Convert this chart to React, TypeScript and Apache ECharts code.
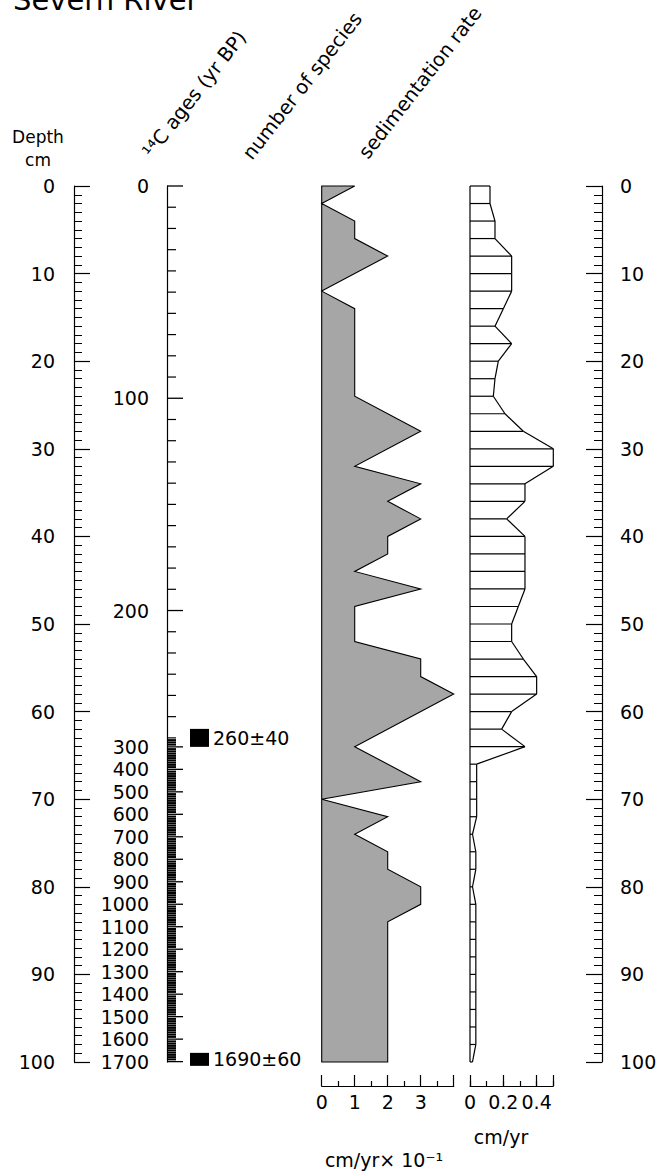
import React, { useEffect, useRef } from "react";
import * as echarts from "echarts";

// ---------------- data ----------------
const title = "Severn River";
const depthMin = 0;
const depthMax = 100;

// number of species (x, cm/yr x 10^-1 scale) at depth (cm)
const speciesDepth = [0, 2, 4, 6, 8, 12, 14, 24, 28, 32, 34, 36, 38, 40, 42, 44, 46, 48, 52, 54, 56, 58, 64, 68, 70, 72, 74, 76, 78, 80, 82, 84, 100];
const speciesValue = [1, 0, 1, 1, 2, 0, 1, 1, 3, 1, 3, 2, 3, 2, 2, 1, 3, 1, 1, 3, 3, 4, 1, 3, 0, 2, 1, 2, 2, 3, 3, 2, 2];

// sedimentation rate (cm/yr) at depth (cm)
const sedDepth = [0, 2, 4, 6, 8, 10, 12, 14, 16, 18, 20, 22, 24, 26, 28, 30, 32, 34, 36, 38, 40, 42, 44, 46, 48, 50, 52, 54, 56, 58, 60, 62, 64, 66, 68, 70, 72, 74, 76, 78, 80, 82, 84, 86, 88, 90, 92, 94, 96, 98, 100];
const sedRate = [0.12, 0.12, 0.15, 0.15, 0.25, 0.25, 0.25, 0.2, 0.15, 0.25, 0.17, 0.15, 0.14, 0.21, 0.32, 0.5, 0.5, 0.33, 0.33, 0.22, 0.33, 0.33, 0.33, 0.33, 0.29, 0.25, 0.25, 0.32, 0.4, 0.4, 0.25, 0.19, 0.33, 0.04, 0.04, 0.04, 0.04, 0.015, 0.035, 0.035, 0.015, 0.035, 0.035, 0.035, 0.035, 0.035, 0.035, 0.035, 0.035, 0.035, 0.015];

// age-depth model control points (yr BP -> cm)
const ageControlAge = [0, 260, 1690];
const ageControlDepth = [0, 63, 99.7];

// radiocarbon dates
const datedAges = [260, 1690];
const datedErrors = [40, 60];
const datedDepths = [63, 99.7];

// age axis ticks
const ageTickStep = 10;
const ageTickMax = 1700;
const ageTickLabels = [0, 100, 200, 300, 400, 500, 600, 700, 800, 900, 1000, 1100, 1200, 1300, 1400, 1500, 1600, 1700];

// panel axes
const speciesAxisMax = 4;
const sedAxisMax = 0.5;

// ---------------- helpers ----------------
function ageToDepth(age: number): number {
  const a = ageControlAge;
  const d = ageControlDepth;
  let i = 0;
  while (i < a.length - 2 && age > a[i + 1]) i++;
  const t = (age - a[i]) / (a[i + 1] - a[i]);
  return d[i] + t * (d[i + 1] - d[i]);
}

const FONT = "DejaVu Sans";
const TOP = 186;
const H = 876;
const BLACK = "#000";

export default function App() {
  const ref = useRef<HTMLDivElement>(null);

  useEffect(() => {
    if (!ref.current) return;
    const chart = echarts.init(ref.current, null, { renderer: "svg" });

    const ageTicks: number[][] = [];
    for (let a = 0; a <= ageTickMax; a += ageTickStep) {
      ageTicks.push([0, ageToDepth(a), a]);
    }

    const depthAxisCommon = {
      type: "value",
      min: depthMin,
      max: depthMax,
      inverse: true,
      interval: 10,
      axisLine: { show: true, onZero: false, lineStyle: { color: BLACK, width: 1.2 } },
      axisTick: { show: true, inside: true, length: 16, lineStyle: { color: BLACK, width: 1.2 } },
      minorTick: { show: true, splitNumber: 10, length: 8, lineStyle: { color: BLACK, width: 1 } },
      splitLine: { show: false },
      minorSplitLine: { show: false },
    };

    const hiddenY = (gi: number) => ({
      gridIndex: gi,
      type: "value",
      min: depthMin,
      max: depthMax,
      inverse: true,
      show: false,
    });

    const labelStyle = { fontFamily: FONT, fontSize: 19, color: BLACK };

    const rot = (52 * Math.PI) / 180;
    const headerStyle = { fontFamily: FONT, fontSize: 19.5, fill: BLACK, align: "left", verticalAlign: "middle" };

    const option: any = {
      animation: false,
      backgroundColor: "#fff",
      grid: [
        { left: 74, top: TOP, width: 10, height: H },
        { left: 167, top: TOP, width: 16, height: H },
        { left: 321.7, top: TOP, width: 132, height: H },
        { left: 470, top: TOP, width: 83.3, height: H },
        { left: 592, top: TOP, width: 10, height: H },
      ],
      xAxis: [
        { gridIndex: 0, type: "value", min: 0, max: 1, show: false },
        { gridIndex: 1, type: "value", min: 0, max: 1, show: false },
        {
          gridIndex: 2,
          type: "value",
          min: 0,
          max: speciesAxisMax,
          interval: 1,
          position: "bottom",
          offset: 24,
          axisLine: { show: true, onZero: false, lineStyle: { color: BLACK, width: 1.2 } },
          axisTick: { show: true, inside: true, length: 11, lineStyle: { color: BLACK, width: 1.2 } },
          minorTick: { show: true, splitNumber: 2, length: 5, lineStyle: { color: BLACK, width: 1.2 } },
          splitLine: { show: false },
          minorSplitLine: { show: false },
          axisLabel: {
            ...labelStyle,
            margin: 6,
            formatter: (v: number) => (v === speciesAxisMax ? "" : String(v)),
          },
        },
        {
          gridIndex: 3,
          type: "value",
          min: 0,
          max: sedAxisMax,
          interval: 0.2,
          position: "bottom",
          offset: 24,
          axisLine: { show: true, onZero: false, lineStyle: { color: BLACK, width: 1.2 } },
          axisTick: { show: true, inside: true, length: 11, lineStyle: { color: BLACK, width: 1.2 } },
          splitLine: { show: false },
          axisLabel: {
            ...labelStyle,
            margin: 6,
            formatter: (v: number) => (Math.abs(v - sedAxisMax) < 1e-9 ? "" : String(Math.round(v * 10) / 10)),
          },
        },
        {
          gridIndex: 3,
          type: "value",
          min: 0,
          max: sedAxisMax,
          interval: 0.1,
          position: "bottom",
          offset: 24,
          axisLine: { show: false, onZero: false },
          axisTick: { show: true, inside: true, length: 5, lineStyle: { color: BLACK, width: 1.2 } },
          splitLine: { show: false },
          axisLabel: { show: false },
        },
        { gridIndex: 4, type: "value", min: 0, max: 1, show: false },
      ],
      yAxis: [
        {
          ...depthAxisCommon,
          gridIndex: 0,
          position: "left",
          axisLabel: { ...labelStyle, margin: 19 },
        },
        {
          gridIndex: 1,
          type: "value",
          min: depthMin,
          max: depthMax,
          inverse: true,
          position: "left",
          axisLine: { show: true, onZero: false, lineStyle: { color: BLACK, width: 1.2 } },
          axisTick: { show: false },
          axisLabel: { show: false },
          splitLine: { show: false },
        },
        hiddenY(2),
        hiddenY(3),
        {
          ...depthAxisCommon,
          gridIndex: 4,
          position: "right",
          axisLabel: { ...labelStyle, margin: 18 },
        },
      ],
      series: [
        // age axis ticks & labels (age-depth model)
        {
          type: "custom",
          xAxisIndex: 1,
          yAxisIndex: 1,
          data: ageTicks,
          silent: true,
          renderItem: (params: any, api: any) => {
            const age = api.value(2);
            const d = api.value(1);
            const p = api.coord([0, d]);
            const major = age % 100 === 0;
            const dense = age > datedAges[0];
            const children: any[] = [
              {
                type: "line",
                shape: { x1: p[0], y1: p[1], x2: p[0] + (major ? 16 : 9), y2: p[1] },
                style: { stroke: BLACK, lineWidth: major ? 1.3 : dense ? 2 : 1.2 },
              },
            ];
            if (major && ageTickLabels.indexOf(age) >= 0) {
              children.push({
                type: "text",
                style: {
                  text: String(age),
                  x: p[0] - 18,
                  y: p[1],
                  align: "right",
                  verticalAlign: "middle",
                  fontFamily: FONT,
                  fontSize: 19,
                  fill: BLACK,
                },
              });
            }
            return { type: "group", children };
          },
        },
        // radiocarbon dates
        {
          type: "custom",
          xAxisIndex: 1,
          yAxisIndex: 1,
          data: datedAges.map((a, i) => [0, datedDepths[i], a, datedErrors[i]]),
          silent: true,
          renderItem: (params: any, api: any) => {
            const p = api.coord([0, api.value(1)]);
            const h = params.dataIndex === 0 ? 18 : 13;
            return {
              type: "group",
              children: [
                {
                  type: "rect",
                  shape: { x: p[0] + 23, y: p[1] - h / 2, width: 19, height: h },
                  style: { fill: BLACK },
                },
                {
                  type: "text",
                  style: {
                    text: api.value(2) + "±" + api.value(3),
                    x: p[0] + 46,
                    y: p[1],
                    align: "left",
                    verticalAlign: "middle",
                    fontFamily: FONT,
                    fontSize: 19,
                    fill: BLACK,
                  },
                },
              ],
            };
          },
        },
        // number of species
        {
          type: "custom",
          xAxisIndex: 2,
          yAxisIndex: 2,
          data: speciesDepth.map((d, i) => [speciesValue[i], d]),
          silent: true,
          renderItem: (params: any, api: any) => {
            if (params.dataIndex !== 0) return { type: "group", children: [] };
            const pts: number[][] = [];
            pts.push(api.coord([0, speciesDepth[0]]));
            for (let i = 0; i < speciesDepth.length; i++) {
              pts.push(api.coord([speciesValue[i], speciesDepth[i]]));
            }
            pts.push(api.coord([0, speciesDepth[speciesDepth.length - 1]]));
            return {
              type: "polygon",
              shape: { points: pts },
              style: { fill: "#a6a6a6", stroke: BLACK, lineWidth: 1.1 },
            };
          },
        },
        // sedimentation rate
        {
          type: "custom",
          xAxisIndex: 3,
          yAxisIndex: 3,
          data: sedDepth.map((d, i) => [sedRate[i], d]),
          silent: true,
          renderItem: (params: any, api: any) => {
            const i = params.dataIndex;
            const v = api.value(0);
            const d = api.value(1);
            const p0 = api.coord([0, d]);
            const p1 = api.coord([v, d]);
            const children: any[] = [
              {
                type: "line",
                shape: { x1: p0[0], y1: p0[1], x2: p1[0], y2: p1[1] },
                style: { stroke: BLACK, lineWidth: 1.2 },
              },
            ];
            if (i < sedDepth.length - 1) {
              const p2 = api.coord([sedRate[i + 1], sedDepth[i + 1]]);
              children.push({
                type: "line",
                shape: { x1: p1[0], y1: p1[1], x2: p2[0], y2: p2[1] },
                style: { stroke: BLACK, lineWidth: 1.2 },
              });
            }
            if (i === 0) {
              const a = api.coord([0, sedDepth[0]]);
              const b = api.coord([0, sedDepth[sedDepth.length - 1]]);
              children.push({
                type: "line",
                shape: { x1: a[0], y1: a[1], x2: b[0], y2: b[1] },
                style: { stroke: BLACK, lineWidth: 1.2 },
              });
            }
            return { type: "group", children };
          },
        },
      ],
      graphic: [
        {
          type: "text",
          x: 13,
          y: 0,
          style: { text: title, fontFamily: FONT, fontSize: 29, fill: BLACK, align: "left", verticalAlign: "middle" },
        },
        {
          type: "text",
          x: 38,
          y: 137,
          style: { text: "Depth", fontFamily: FONT, fontSize: 17, fill: BLACK, align: "center", verticalAlign: "middle" },
        },
        {
          type: "text",
          x: 38,
          y: 160,
          style: { text: "cm", fontFamily: FONT, fontSize: 17, fill: BLACK, align: "center", verticalAlign: "middle" },
        },
        {
          type: "text",
          x: 147,
          y: 155,
          rotation: rot,
          style: { ...headerStyle, text: "¹⁴C ages (yr BP)" },
        },
        {
          type: "text",
          x: 247,
          y: 157,
          rotation: rot,
          style: { ...headerStyle, text: "number of species" },
        },
        {
          type: "text",
          x: 363,
          y: 156,
          rotation: rot,
          style: { ...headerStyle, text: "sedimentation rate" },
        },
        {
          type: "text",
          x: 501,
          y: 1137,
          style: { text: "cm/yr", fontFamily: FONT, fontSize: 19, fill: BLACK, align: "center", verticalAlign: "middle" },
        },
        {
          type: "text",
          x: 384,
          y: 1160,
          style: { text: "cm/yr× 10⁻¹", fontFamily: FONT, fontSize: 19, fill: BLACK, align: "center", verticalAlign: "middle" },
        },
      ],
    };

    chart.setOption(option);
    return () => chart.dispose();
  }, []);

  return (
    <div
      ref={ref}
      style={{ position: "absolute", left: 0, top: 0, width: 664, height: 1175, background: "#fff" }}
    />
  );
}
